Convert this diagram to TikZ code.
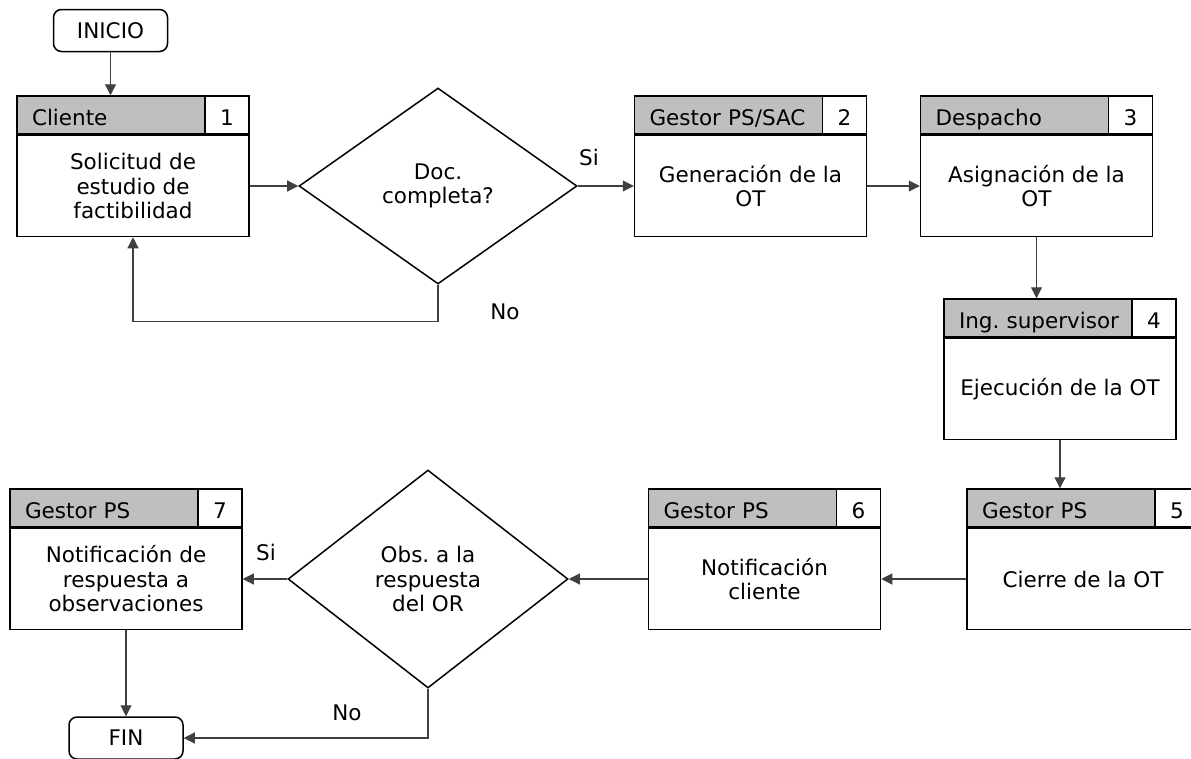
\documentclass[tikz,border=0pt]{standalone}
\usepackage{fontspec}
\setmainfont{DejaVu Sans}
\usetikzlibrary{shapes.geometric,arrows.meta}
\frenchspacing

\begin{document}
\begin{tikzpicture}[x=1pt,y=-1pt,
  >={Triangle[length=11pt,width=11pt]},
  every node/.style={font=\fontsize{21.5}{24.5}\selectfont},
  cuerpo/.style={draw,line width=1.5pt,minimum width=232pt,minimum height=101pt,
    align=center,inner sep=0pt},
  cabecera/.style={draw,line width=1.5pt,fill=gray!50,minimum height=38pt,
    text width=202pt,text height=21pt,text depth=0pt,inner xsep=15pt,
    inner ysep=0pt,align=left,anchor=south west},
  numero/.style={draw,line width=1.5pt,fill=white,minimum width=44pt,
    minimum height=38pt,text height=21pt,text depth=0pt,inner sep=0pt,
    anchor=south east},
  extremo/.style={draw,line width=1.5pt,rounded corners=8pt,minimum width=114pt,
    minimum height=42pt},
  decision/.style={draw,diamond,line width=1.5pt,inner sep=0pt,align=center},
  flecha/.style={->,line width=1.1pt,draw=black!75}]

\useasboundingbox (0,0) rectangle (1191,758);

%=== Inicio y fin ===
\node[extremo] (inicio) at (110.5,30.5) {INICIO};
\node[extremo] (fin) at (126,738) {FIN};

%=== Pasos ===
\node[cuerpo] (p1) at (133,186) {Solicitud de\\estudio de\\factibilidad};
\node[cuerpo] (p2) at (750.5,186) {Generación de la\\OT};
\node[cuerpo] (p3) at (1036.5,186) {Asignación de la\\OT};
\node[cuerpo] (p4) at (1060,389) {Ejecución de la OT};
\node[cuerpo] (p5) at (1083,579) {Cierre de la OT};
\node[cuerpo] (p6) at (764.5,579) {Notificación\\cliente};
\node[cuerpo] (p7) at (126,579) {Notificación de\\respuesta a\\observaciones};

% cabeceras con responsable y numero
\foreach \p/\quien/\k in {p1/Cliente/1, p2/{Gestor PS/SAC}/2, p3/Despacho/3,
    p4/Ing. supervisor/4, p5/Gestor PS/5, p6/Gestor PS/6, p7/Gestor PS/7}{
  \node[cabecera] (c\k) at (\p.north west) {\quien};
  \node[numero] (n\k) at (\p.north east) {\k};
}

%=== Decisiones ===
\node[decision,minimum width=278pt,minimum height=196pt] (d1) at (438,186)
  {Doc.\\completa?};
\node[decision,minimum width=280pt,minimum height=218pt] (d2) at (428,579)
  {Obs. a la\\respuesta\\del OR};

%=== Conectores ===
\draw[flecha] (inicio) -- (inicio |- c1.north);
\draw[flecha] (p1) -- (d1);
\draw[flecha] (d1) -- (p2);
\draw[flecha] (d1.south) -- ++(0,37) -| (p1.south);
\draw[flecha] (p2) -- (p3);
\draw[flecha] (p3.south) -- (p3.south |- c4.north);
\draw[flecha] (p4.south) -- (p4.south |- c5.north);
\draw[flecha] (p5) -- (p6);
\draw[flecha] (p6) -- (d2);
\draw[flecha] (d2) -- (p7);
\draw[flecha] (d2.south) |- (fin.east);
\draw[flecha] (p7.south) -- (fin.north);

% etiquetas Si / No
\node (si1) at (589,157) {Si};
\node (no1) at (505,312) {No};
\node (si2) at (266,552) {Si};
\node (no2) at (347,713) {No};

\end{tikzpicture}
\end{document}
